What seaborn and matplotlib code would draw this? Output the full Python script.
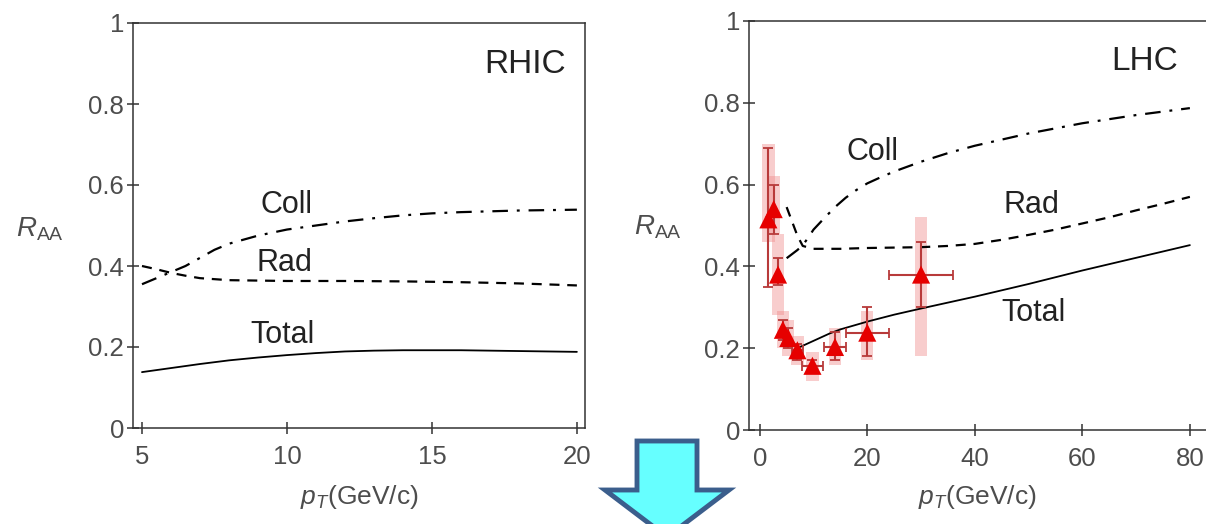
import numpy as np
import pandas as pd
import matplotlib
matplotlib.use("Agg")
import matplotlib.pyplot as plt
import seaborn as sns
from matplotlib.patches import Polygon

# ---------------- data ----------------
# RHIC panel curves
rhic_total_x = [5, 6, 7, 8, 9, 10, 11, 12, 13, 14, 15, 16, 17, 18, 19, 20]
rhic_total_y = [0.138, 0.148, 0.158, 0.167, 0.174, 0.180, 0.185, 0.189, 0.191, 0.192,
                0.192, 0.192, 0.191, 0.190, 0.189, 0.188]
rhic_rad_x = [5, 5.5, 6, 6.5, 7, 8, 10, 12, 14, 16, 18, 20]
rhic_rad_y = [0.400, 0.392, 0.383, 0.376, 0.370, 0.365, 0.363, 0.363, 0.362, 0.360, 0.357, 0.352]
rhic_coll_x = [5, 5.5, 6, 6.5, 7, 7.5, 8, 9, 10, 11, 12, 13, 14, 15, 16, 17, 18, 19, 20]
rhic_coll_y = [0.355, 0.370, 0.385, 0.400, 0.420, 0.440, 0.455, 0.475, 0.490, 0.500, 0.510,
               0.518, 0.525, 0.530, 0.533, 0.535, 0.537, 0.538, 0.539]

# LHC panel curves
lhc_total_x = [7.5, 9, 11, 13, 15, 20, 25, 30, 40, 50, 60, 70, 80]
lhc_total_y = [0.203, 0.212, 0.224, 0.236, 0.246, 0.265, 0.282, 0.297, 0.326, 0.357, 0.390, 0.421, 0.452]
lhc_rad_x = [5, 6, 7, 8, 10, 15, 20, 25, 30, 35, 40, 45, 50, 55, 60, 65, 70, 75, 80]
lhc_rad_y = [0.545, 0.510, 0.475, 0.450, 0.443, 0.443, 0.445, 0.446, 0.447, 0.450, 0.455,
             0.465, 0.477, 0.490, 0.505, 0.520, 0.537, 0.553, 0.570]
lhc_coll_x = [5, 6, 7, 8, 9, 10, 12, 14, 16, 18, 20, 22, 25, 30, 35, 40, 50, 60, 70, 80]
lhc_coll_y = [0.420, 0.430, 0.440, 0.452, 0.470, 0.490, 0.518, 0.545, 0.568, 0.587, 0.603,
              0.615, 0.632, 0.656, 0.677, 0.695, 0.725, 0.750, 0.770, 0.787]

# LHC measured points
pt_x = [1.6, 2.6, 3.4, 4.3, 5.3, 7.0, 9.8, 14.0, 20.0, 30.0]
pt_y = [0.515, 0.540, 0.380, 0.245, 0.225, 0.195, 0.157, 0.203, 0.238, 0.380]
pt_stat_lo = [0.35, 0.48, 0.355, 0.22, 0.20, 0.17, 0.14, 0.17, 0.18, 0.30]
pt_stat_hi = [0.69, 0.60, 0.42, 0.27, 0.25, 0.21, 0.17, 0.24, 0.30, 0.46]
pt_sys_lo = [0.46, 0.48, 0.28, 0.20, 0.18, 0.16, 0.12, 0.16, 0.17, 0.18]
pt_sys_hi = [0.70, 0.62, 0.48, 0.29, 0.27, 0.23, 0.19, 0.25, 0.29, 0.52]
pt_xerr = [0, 0, 0, 0, 0, 1.0, 2.0, 2.0, 4.0, 6.0]

yticks = [0, 0.2, 0.4, 0.6, 0.8, 1.0]
ytick_labels = ["0", "0.2", "0.4", "0.6", "0.8", "1"]
rhic_xticks = [5, 10, 15, 20]
lhc_xticks = [0, 20, 40, 60, 80]

# ---------------- style ----------------
sns.set_theme(style="ticks")
plt.rcParams["font.family"] = ["Liberation Sans", "DejaVu Sans"]
plt.rcParams["mathtext.fontset"] = "custom"
plt.rcParams["mathtext.rm"] = "Liberation Sans"
plt.rcParams["mathtext.it"] = "Liberation Sans:italic"
plt.rcParams["mathtext.bf"] = "Liberation Sans:bold"

W, H = 1206, 524
fig = plt.figure(figsize=(W / 100, H / 100), dpi=100)
fig.patch.set_facecolor("white")

def px_axes(left, right, top, bottom):
    return fig.add_axes([left / W, (H - bottom) / H, (right - left) / W, (bottom - top) / H])

ax1 = px_axes(133, 585, 23, 428)
ax2 = px_axes(749, 1206, 21, 430)

label_col = "#4d4d4d"
text_col = "#222222"
spine_col = "#333333"

coll_ls = (0, (7, 4, 1.3, 4))
rad_ls = (0, (4.5, 3.5))

def style_axes(ax, xlim, xticks, show_right=True):
    ax.set_xlim(*xlim)
    ax.set_ylim(0, 1)
    ax.set_xticks(xticks)
    ax.set_xticklabels([str(t) for t in xticks])
    ax.set_yticks(yticks)
    ax.set_yticklabels(ytick_labels)
    for s in ax.spines.values():
        s.set_visible(True)
        s.set_color(spine_col)
        s.set_linewidth(1.1)
    ax.spines["right"].set_visible(show_right)
    ax.tick_params(axis="both", direction="inout", length=9, width=1.1, color=spine_col,
                   labelsize=18.5, labelcolor=label_col)
    ax.tick_params(axis="x", pad=8)
    ax.tick_params(axis="y", pad=2)
    ax.set_facecolor("white")
    ax.grid(False)

# ---------------- RHIC panel ----------------
sns.lineplot(x=rhic_total_x, y=rhic_total_y, ax=ax1, color="black", linewidth=1.3)
sns.lineplot(x=rhic_rad_x, y=rhic_rad_y, ax=ax1, color="black", linewidth=1.6, linestyle=rad_ls)
sns.lineplot(x=rhic_coll_x, y=rhic_coll_y, ax=ax1, color="black", linewidth=1.6, linestyle=coll_ls)
style_axes(ax1, (4.69, 20.28), rhic_xticks)

ax1.text(9.97, 0.551, "Coll", fontsize=22, color=text_col, ha="center", va="center")
ax1.text(9.9, 0.407, "Rad", fontsize=22, color=text_col, ha="center", va="center")
ax1.text(9.86, 0.23, "Total", fontsize=22, color=text_col, ha="center", va="center")
ax1.text(18.2, 0.897, "RHIC", fontsize=24, color=text_col, ha="center", va="center")

# ---------------- LHC panel ----------------
pink = "#f08a8a"
sys_h = [hi - lo for lo, hi in zip(pt_sys_lo, pt_sys_hi)]
ax2.bar(pt_x, sys_h, bottom=pt_sys_lo, width=2.3, color=pink, alpha=0.42, linewidth=0, zorder=1)

sns.lineplot(x=lhc_total_x, y=lhc_total_y, ax=ax2, color="black", linewidth=1.3, zorder=3)
sns.lineplot(x=lhc_rad_x, y=lhc_rad_y, ax=ax2, color="black", linewidth=1.6, linestyle=rad_ls, zorder=3)
sns.lineplot(x=lhc_coll_x, y=lhc_coll_y, ax=ax2, color="black", linewidth=1.6, linestyle=coll_ls, zorder=3)

yerr = np.array([[y - lo for y, lo in zip(pt_y, pt_stat_lo)],
                 [hi - y for y, hi in zip(pt_y, pt_stat_hi)]])
xerr = np.array(pt_xerr)
ax2.errorbar(pt_x, pt_y, yerr=yerr, xerr=np.where(xerr > 0, xerr, np.nan), fmt="none",
             ecolor="#b83a3a", elinewidth=1.5, capsize=3.5, capthick=1.3, zorder=4)
sns.scatterplot(x=pt_x, y=pt_y, ax=ax2, marker="^", s=170, color="#e60000",
                edgecolor="none", linewidth=0, zorder=5)
style_axes(ax2, (-2.0, 83.0), lhc_xticks, show_right=False)

ax2.text(20.9, 0.68, "Coll", fontsize=22, color=text_col, ha="center", va="center")
ax2.text(50.6, 0.55, "Rad", fontsize=22, color=text_col, ha="center", va="center")
ax2.text(51.0, 0.286, "Total", fontsize=22, color=text_col, ha="center", va="center")
ax2.text(71.5, 0.90, "LHC", fontsize=24, color=text_col, ha="center", va="center")

# axis labels
for ax, lx, ly, xly in [(ax1, -0.206, 0.49, -0.136), (ax2, -0.199, 0.496, -0.13)]:
    ax.set_ylabel("")
    ax.text(lx, ly, r"$\mathit{R}_{\mathrm{AA}}$", transform=ax.transAxes, fontsize=20,
            color=label_col, ha="center", va="center")
    ax.set_xlabel(r"$\mathit{p}_{\mathit{T}}$(GeV/c)", fontsize=19, color=label_col)
    ax.xaxis.set_label_coords(0.5, xly)

# decorative down arrow at bottom centre
arrow_px = [(637, 441), (697, 441), (697, 490), (729, 490), (667, 537), (605, 490), (637, 490)]
arrow = Polygon([(x / W, (H - y) / H) for x, y in arrow_px], closed=True,
                transform=fig.transFigure, facecolor="#66ffff", edgecolor="#3b5e8c",
                linewidth=3.5, joinstyle="miter")
fig.patches.append(arrow)

fig.savefig("out.png", dpi=100, facecolor="white")
